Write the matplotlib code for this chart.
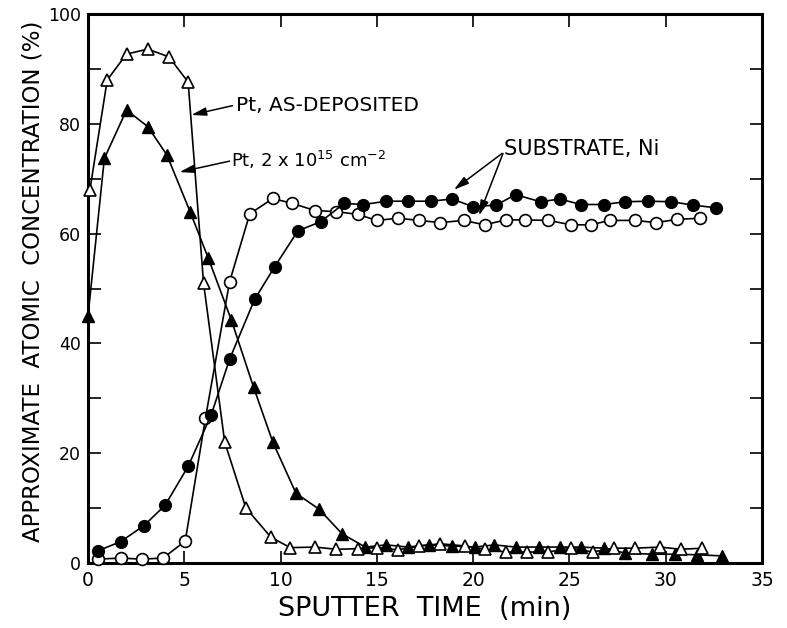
import matplotlib
matplotlib.use("Agg")
import matplotlib.pyplot as plt
from matplotlib.ticker import MultipleLocator

# ---- data ----
pt_asdep_x = [0.1, 1.0, 2.0, 3.1, 4.2, 5.2, 6.0, 7.1, 8.2, 9.5, 10.5, 11.8, 12.9, 14.0, 15.0,
              16.1, 17.2, 18.3, 19.6, 20.6, 21.7, 22.8, 23.9, 25.1, 26.2, 27.3, 28.4, 29.7, 30.8, 31.9]
pt_asdep_y = [68, 88, 92.7, 93.6, 92.2, 87.6, 51, 22, 10, 4.7, 2.8, 2.9, 2.5, 2.6, 2.8,
              2.4, 3.1, 3.5, 3.1, 2.5, 2.0, 2.0, 2.0, 2.7, 2.0, 2.7, 2.7, 2.9, 2.5, 2.7]

pt_impl_x = [0.0, 0.85, 2.0, 3.1, 4.1, 5.3, 6.25, 7.45, 8.6, 9.6, 10.8, 12.0, 13.2, 14.4, 15.5,
             16.6, 17.7, 18.9, 20.1, 21.1, 22.2, 23.4, 24.5, 25.6, 26.8, 27.9, 29.3, 30.5, 31.6, 32.9]
pt_impl_y = [45, 73.7, 82.5, 79.5, 74.3, 64, 55.5, 44.2, 32, 22, 12.7, 9.8, 5.3, 2.9, 3.3,
             2.9, 3.3, 3.1, 2.9, 3.3, 2.9, 2.9, 2.9, 2.9, 2.7, 1.8, 1.6, 1.6, 1.5, 1.3]

ni_asdep_x = [0.5, 1.7, 2.8, 3.9, 5.05, 6.1, 7.35, 8.4, 9.6, 10.6, 11.8, 12.9, 14.0, 15.0, 16.1,
              17.2, 18.3, 19.5, 20.6, 21.7, 22.7, 23.9, 25.1, 26.1, 27.1, 28.4, 29.5, 30.6, 31.8]
ni_asdep_y = [0.7, 0.9, 0.7, 0.9, 4.0, 26.4, 51.2, 63.6, 66.4, 65.5, 64.2, 64.0, 63.5, 62.4, 62.8,
              62.4, 62.0, 62.4, 61.6, 62.5, 62.5, 62.4, 61.6, 61.6, 62.4, 62.4, 62.0, 62.6, 62.8]

ni_impl_x = [0.5, 1.7, 2.9, 4.0, 5.2, 6.4, 7.35, 8.65, 9.7, 10.9, 12.1, 13.3,
             14.3, 15.5, 16.6, 17.8, 18.9, 20.0, 21.2, 22.2, 23.5, 24.5, 25.6, 26.8, 27.9, 29.1,
             30.3, 31.4, 32.6]
ni_impl_y = [2.2, 3.9, 6.8, 10.5, 17.6, 27.0, 37.1, 48.0, 54.0, 60.5, 62.2, 65.5,
             65.3, 65.9, 65.9, 65.9, 66.3, 64.9, 65.2, 67.1, 65.8, 66.3, 65.3, 65.3, 65.8, 65.9,
             65.8, 65.2, 64.7]

x_ticks = [0, 5, 10, 15, 20, 25, 30, 35]
y_ticks = [0, 20, 40, 60, 80, 100]

# ---- figure ----
fig = plt.figure(figsize=(7.87, 6.28), dpi=100)
ax = fig.add_axes([88 / 787, 1 - 563 / 628, (762 - 88) / 787, (563 - 14) / 628])

lw = 1.2
ms = 8.5
ax.plot(ni_asdep_x, ni_asdep_y, '-o', color='black', lw=lw, ms=ms,
        mfc='white', mec='black', mew=1.2, zorder=3, clip_on=False)
ax.plot(ni_impl_x, ni_impl_y, '-o', color='black', lw=lw, ms=ms,
        mfc='black', mec='black', zorder=3, clip_on=False)
ax.plot(pt_impl_x, pt_impl_y, '-^', color='black', lw=lw, ms=ms,
        mfc='black', mec='black', zorder=4, clip_on=False)
ax.plot(pt_asdep_x, pt_asdep_y, '-^', color='black', lw=lw, ms=ms,
        mfc='white', mec='black', mew=1.2, zorder=4, clip_on=False)

ax.set_xlim(0, 35)
ax.set_ylim(0, 100)
ax.set_xticks(x_ticks)
ax.set_yticks(y_ticks)
ax.yaxis.set_minor_locator(MultipleLocator(10))
ax.tick_params(which='both', direction='in', top=True, right=True,
               length=9, width=1.2, labelsize=13.5, pad=6)
ax.tick_params(axis='y', labelsize=12.5, pad=5)
for s in ax.spines.values():
    s.set_linewidth(2.2)

ax.set_xlabel('SPUTTER  TIME  (min)', fontsize=19.5, labelpad=4)
ax.set_ylabel('APPROXIMATE  ATOMIC  CONCENTRATION (%)', fontsize=16.5)
ax.yaxis.set_label_coords(-0.065, 0.514)

# ---- annotations ----
arrow = dict(arrowstyle='-|>,head_length=0.9,head_width=0.25', color='black', lw=1.1,
             shrinkA=0, shrinkB=0)
ax.text(7.7, 83.4, 'Pt, AS-DEPOSITED', fontsize=14.5, ha='left', va='center')
ax.annotate('', xy=(5.36, 81.6), xytext=(7.5, 83.3), arrowprops=arrow)

ax.text(7.45, 73.4, r'Pt, 2 x 10$^{15}$ cm$^{-2}$', fontsize=13, ha='left', va='center')
ax.annotate('', xy=(4.75, 71.2), xytext=(7.35, 73.2), arrowprops=arrow)

ax.text(21.6, 75.4, 'SUBSTRATE, Ni', fontsize=15, ha='left', va='center')
ax.annotate('', xy=(19.0, 68.0), xytext=(21.5, 74.6), arrowprops=arrow)
ax.annotate('', xy=(20.3, 63.3), xytext=(21.55, 74.6), arrowprops=arrow)

fig.savefig('out.png', dpi=100)
